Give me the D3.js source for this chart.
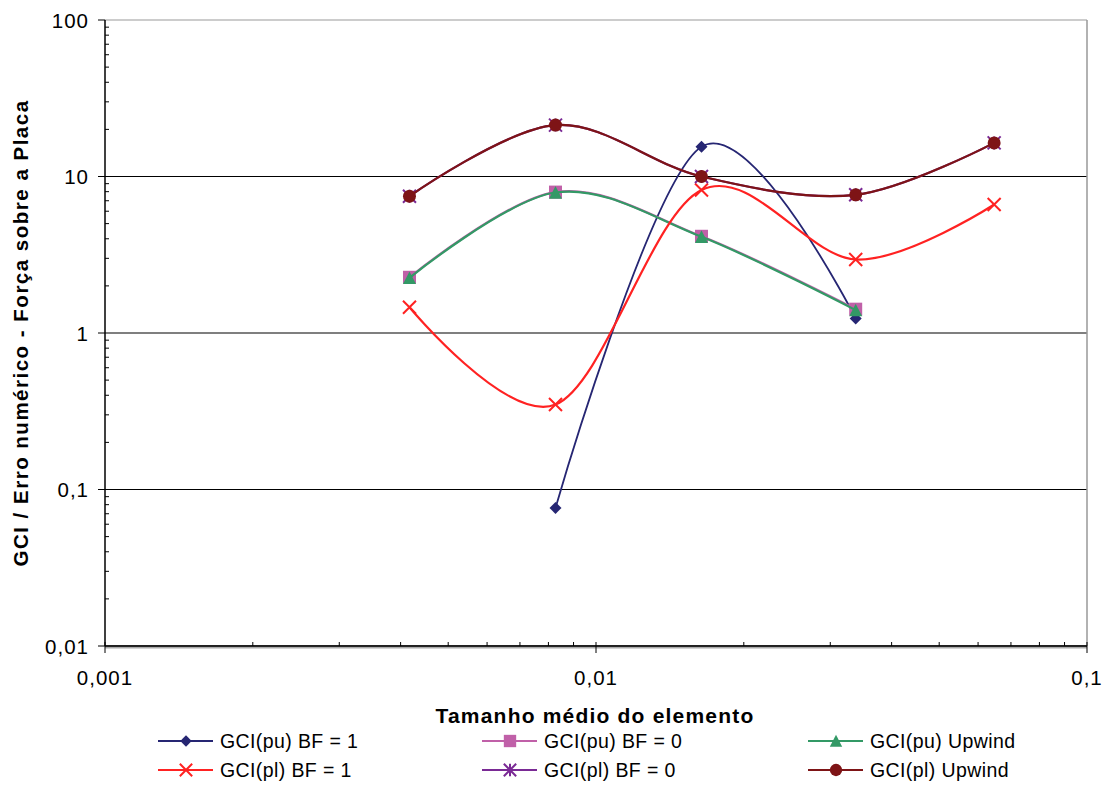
<!DOCTYPE html>
<html>
<head>
<meta charset="utf-8">
<script src="https://cdn.jsdelivr.net/npm/d3@7"></script>
<style>
  html, body { margin: 0; padding: 0; background: #fff; }
  svg { display: block; font-family: "Liberation Sans", Arial, sans-serif; }
</style>
</head>
<body>
<svg id="chart" width="1108" height="785"></svg>
<script>
// ---- data ----
const sizes = [0.00417, 0.00827, 0.0164, 0.0338, 0.0647];
const seriesNames = ["GCI(pu) BF = 1", "GCI(pu) BF = 0", "GCI(pu) Upwind",
                     "GCI(pl) BF = 1", "GCI(pl) BF = 0", "GCI(pl) Upwind"];
const puBF1    = [null, 0.0763, 15.5, 1.24, null];
const puBF0    = [2.27, 7.95, 4.15, 1.42, null];
const puUpwind = [2.25, 7.9, 4.12, 1.40, null];
const plBF1    = [1.46, 0.349, 8.2, 2.95, 6.62];
const plBF0    = [7.48, 21.3, 10.0, 7.64, 16.4];
const plUpwind = [7.48, 21.3, 10.0, 7.64, 16.4];
const xTickValues = [0.001, 0.01, 0.1];
const xTickLabels = ["0,001", "0,01", "0,1"];
const yTickValues = [0.01, 0.1, 1, 10, 100];
const yTickLabels = ["0,01", "0,1", "1", "10", "100"];
const xTitle = "Tamanho médio do elemento";
const yTitle = "GCI / Erro numérico - Força sobre a Placa";

// ---- layout ----
const svg = d3.select("#chart");
const L = 105, R = 1087, T = 20, B = 646;
const x = d3.scaleLog().domain([0.001, 0.1]).range([L, R]);
const y = d3.scaleLog().domain([0.01, 100]).range([B, T]);

const styles = [
  { color: "#262673", marker: "diamond" },
  { color: "#C060A8", marker: "square" },
  { color: "#339966", marker: "triangle" },
  { color: "#FF2222", marker: "x" },
  { color: "#7A2A95", marker: "star" },
  { color: "#7E1416", marker: "circle" }
];
const allSeries = [puBF1, puBF0, puUpwind, plBF1, plBF0, plUpwind];

// gridlines (major y)
const g = svg.append("g");
yTickValues.forEach(v => {
  g.append("line").attr("x1", L).attr("x2", R).attr("y1", y(v)).attr("y2", y(v))
    .attr("stroke", (v === 100) ? "#999" : "#000").attr("stroke-width", 1.2);
});
// right border
g.append("line").attr("x1", R).attr("x2", R).attr("y1", T).attr("y2", B)
  .attr("stroke", "#999").attr("stroke-width", 1.5);

// minor ticks
const minors = [];
for (let e = -3; e < -1; e++) for (let k = 2; k <= 9; k++) minors.push(k * Math.pow(10, e));
minors.forEach(v => {
  g.append("line").attr("x1", x(v)).attr("x2", x(v)).attr("y1", B).attr("y2", B - 4)
    .attr("stroke", "#000").attr("stroke-width", 1);
});
const yMinors = [];
for (let e = -2; e < 2; e++) for (let k = 2; k <= 9; k++) yMinors.push(k * Math.pow(10, e));
yMinors.forEach(v => {
  g.append("line").attr("x1", L).attr("x2", L + 4).attr("y1", y(v)).attr("y2", y(v))
    .attr("stroke", "#000").attr("stroke-width", 1);
});

// axes lines
g.append("line").attr("x1", L).attr("x2", R).attr("y1", B + 1.5).attr("y2", B + 1.5)
  .attr("stroke", "#aaa").attr("stroke-width", 2);
g.append("line").attr("x1", L).attr("x2", R).attr("y1", B).attr("y2", B)
  .attr("stroke", "#000").attr("stroke-width", 1.5);
g.append("line").attr("x1", L).attr("x2", L).attr("y1", T).attr("y2", B)
  .attr("stroke", "#000").attr("stroke-width", 1.5);

// major ticks + labels
xTickValues.forEach((v, i) => {
  g.append("line").attr("x1", x(v)).attr("x2", x(v)).attr("y1", B - 4).attr("y2", B + 7)
    .attr("stroke", "#000").attr("stroke-width", 1);
  g.append("text").attr("x", x(v)).attr("y", 685).attr("text-anchor", "middle")
    .attr("font-size", 20.5).attr("letter-spacing", 1).attr("fill", "#000").text(xTickLabels[i]);
});
yTickValues.forEach((v, i) => {
  g.append("line").attr("x1", L - 7).attr("x2", L).attr("y1", y(v)).attr("y2", y(v))
    .attr("stroke", "#000").attr("stroke-width", 1);
  g.append("text").attr("x", 89).attr("y", y(v) + 7.5).attr("text-anchor", "end")
    .attr("font-size", 20.5).attr("letter-spacing", 1).attr("fill", "#000").text(yTickLabels[i]);
});

// titles
svg.append("text").attr("x", 595).attr("y", 723).attr("text-anchor", "middle")
  .attr("font-size", 21).attr("font-weight", "bold").attr("letter-spacing", 1.2).text(xTitle);
svg.append("text").attr("transform", "translate(28,333) rotate(-90)").attr("text-anchor", "middle")
  .attr("font-size", 20.5).attr("font-weight", "bold").attr("letter-spacing", 1.5).text(yTitle);

// markers
function drawMarker(sel, type, cx, cy, color, s) {
  s = s || 1;
  if (type === "diamond") {
    const r = 6 * s;
    sel.append("path").attr("d", `M${cx},${cy - r}L${cx + r},${cy}L${cx},${cy + r}L${cx - r},${cy}Z`).attr("fill", color);
  } else if (type === "square") {
    const r = 6.5 * s;
    sel.append("rect").attr("x", cx - r).attr("y", cy - r).attr("width", 2 * r).attr("height", 2 * r).attr("fill", color);
  } else if (type === "triangle") {
    const r = 6.5 * s;
    sel.append("path").attr("d", `M${cx},${cy - r}L${cx + r},${cy + r * 0.95}L${cx - r},${cy + r * 0.95}Z`).attr("fill", color);
  } else if (type === "circle") {
    sel.append("circle").attr("cx", cx).attr("cy", cy).attr("r", 6.5 * s).attr("fill", color);
  } else if (type === "x") {
    const r = 6.5 * s;
    sel.append("path").attr("d", `M${cx - r},${cy - r}L${cx + r},${cy + r}M${cx - r},${cy + r}L${cx + r},${cy - r}`)
      .attr("stroke", color).attr("stroke-width", 2).attr("fill", "none");
  } else if (type === "star") {
    const r = 6.5 * s;
    sel.append("path").attr("d", `M${cx - r},${cy - r}L${cx + r},${cy + r}M${cx - r},${cy + r}L${cx + r},${cy - r}M${cx},${cy - r}L${cx},${cy + r}`)
      .attr("stroke", color).attr("stroke-width", 2).attr("fill", "none");
  }
}

// series
const line = d3.line().x(d => x(d[0])).y(d => y(d[1])).curve(d3.curveCatmullRom.alpha(0));
allSeries.forEach((vals, si) => {
  const st = styles[si];
  const pts = sizes.map((s, i) => [s, vals[i]]).filter(d => d[1] != null);
  const sg = svg.append("g");
  sg.append("path").datum(pts).attr("d", line).attr("fill", "none")
    .attr("stroke", st.color).attr("stroke-width", si === 0 ? 1.8 : 2.2);
  pts.forEach(p => drawMarker(sg, st.marker, x(p[0]), y(p[1]), st.color));
});

// legend
const colX = [158, 482, 808];
const rowY = [741, 770];
seriesNames.forEach((name, i) => {
  const cx = colX[i % 3], cy = rowY[Math.floor(i / 3)];
  const st = styles[i];
  const lg = svg.append("g");
  lg.append("line").attr("x1", cx).attr("x2", cx + 55).attr("y1", cy).attr("y2", cy)
    .attr("stroke", st.color).attr("stroke-width", 2);
  drawMarker(lg, st.marker, cx + 28, cy, st.color, 0.95);
  lg.append("text").attr("x", cx + 62).attr("y", cy + 7).attr("font-size", 19.5)
    .attr("letter-spacing", 0.4).text(name);
});
</script>
</body>
</html>
